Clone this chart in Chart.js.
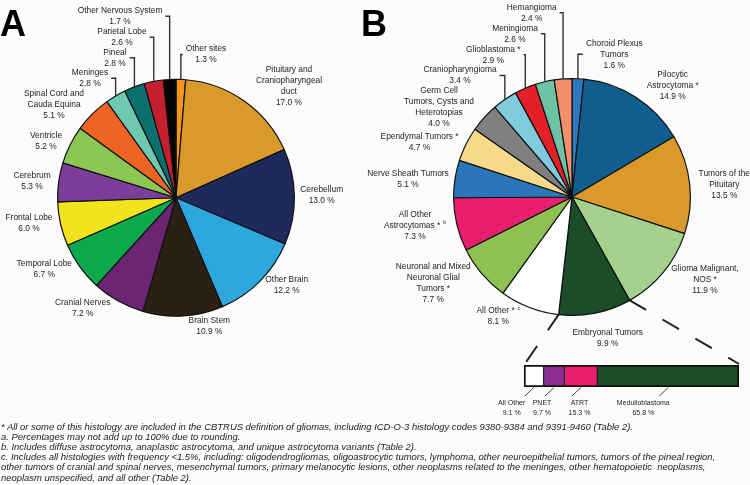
<!DOCTYPE html>
<html><head><meta charset="utf-8">
<script src="https://cdn.jsdelivr.net/npm/chart.js@4.4.1/dist/chart.umd.min.js"></script>
<style>
html,body{margin:0;padding:0;background:#fbfbfb;}
#wrap{position:relative;width:750px;height:485px;overflow:hidden;background:#fbfbfb;}
canvas{position:absolute;left:0;top:0;}
#notes{position:absolute;left:1px;top:421.5px;font:italic 9.45px/10.2px "Liberation Sans",Arial,sans-serif;color:#222;white-space:nowrap;}
</style></head><body>
<div id="wrap">
<canvas id="cA" width="750" height="485"></canvas>
<canvas id="cB" width="750" height="485"></canvas>
<canvas id="cC" width="750" height="485"></canvas>
<div id="notes"></div>
</div>
<script>
// ---------- DATA ----------
const sitesA = [["Other sites"],["Pituitary and","Craniopharyngeal","duct"],["Cerebellum"],["Other Brain"],["Brain Stem"],["Cranial Nerves"],["Temporal Lobe"],["Frontal Lobe"],["Cerebrum"],["Ventricle"],["Spinal Cord and","Cauda Equina"],["Meninges"],["Pineal"],["Parietal Lobe"],["Other Nervous System"]];
const valuesA = [1.3,17.0,13.0,12.2,10.9,7.2,6.7,6.0,5.3,5.2,5.1,2.8,2.8,2.6,1.7];

const histB = [["Choroid Plexus","Tumors"],["Pilocytic","Astrocytoma *"],["Tumors of the","Pituitary"],["Glioma Malignant,","NOS *"],["Embryonal Tumors"],["All Other * ^c"],["Neuronal and Mixed","Neuronal Glial","Tumors *"],["All Other","Astrocytomas * ^b"],["Nerve Sheath Tumors"],["Ependymal Tumors *"],["Germ Cell","Tumors, Cysts and","Heterotopias"],["Craniopharyngioma"],["Glioblastoma *"],["Meningioma"],["Hemangioma"]];
const valuesB = [1.6,14.9,13.5,11.9,9.9,8.1,7.7,7.3,5.1,4.7,4.0,3.4,2.9,2.6,2.4];

const embryonalTypes = [["All Other"],["PNET"],["ATRT"],["Medulloblastoma"]];
const embryonalValues = [9.1,9.7,15.3,65.8];

const footnotes = [
 "* All or some of this histology are included in the CBTRUS definition of gliomas, including ICD-O-3 histology codes 9380-9384 and 9391-9460 (Table 2).",
 "a. Percentages may not add up to 100% due to rounding.",
 "b. Includes diffuse astrocytoma, anaplastic astrocytoma, and unique astrocytoma variants (Table 2).",
 "c. Includes all histologies with frequency <1.5%, including: oligodendrogliomas, oligoastrocytic tumors, lymphoma, other neuroepithelial tumors, tumors of the pineal region,",
 "other tumors of cranial and spinal nerves, mesenchymal tumors, primary melanocytic lesions, other neoplasms related to the meninges, other hematopoietic&nbsp; neoplasms,",
 "neoplasm unspecified, and all other (Table 2)."
];

// ---------- STYLE / LAYOUT ----------
const colorsA = ['#F7941D','#D99A2B','#1E2A5C','#2EA7DF','#2A2114','#6B2572','#0DAA4D','#F2E41C','#7B3E9B','#8CC653','#EE6425','#6FC8B2','#0A716F','#C5202E','#050505'];
const colorsB = ['#2A7ABF','#0F5E8D','#D99A2B','#A4D18B','#1B4D28','#FFFFFF','#8DC253','#E81E6F','#2B76BA','#F6D98B','#808080','#80CBDB','#E42027','#6EC3A6','#F2906C'];
const colorsC = ['#FFFFFF','#8C2D90','#E81E6F','#1B4D28'];
const FONT = '"Liberation Sans", Arial, sans-serif';
const TXT = '#1e1e1e';
// label anchor: [centerX, firstLineY, callout]
const layoutA = [[206,49,1],[289,69.3,0],[321.7,190,0],[286.7,280,0],[209.3,320.3,0],[82.7,303,0],[44.3,264,0],[29,217.7,0],[32,175.7,0],[46,136,0],[54,94,0],[90,72.7,1],[115,52.3,1],[122,31.7,1],[120,10.7,1]];
const layoutB = [[614.3,43.3,1],[672.7,75,0],[724.3,173.3,0],[705,268.3,0],[607.7,332.3,0],[498.3,311,0],[433.3,266.7,0],[415,214.3,0],[408,173.3,0],[419.5,136.7,0],[439,90.7,0],[460,70,1],[493.3,49.3,1],[515,28.3,1],[531.7,7.3,1]];
const layoutC = [511.7,542,579.5,643.3];

function drawLabel(ctx, lines, cx, y0, lh, size){
  let maxW = 0;
  ctx.fillStyle = TXT; ctx.textAlign = 'left'; ctx.textBaseline = 'middle';
  lines.forEach((ln,i)=>{
    const parts = ln.split('^');
    const main = parts[0], sup = parts[1];
    ctx.font = size+'px '+FONT;
    const w = ctx.measureText(main).width;
    let sw = 0;
    if (sup){ ctx.font = (size*0.62)+'px '+FONT; sw = ctx.measureText(sup).width + 0.5; }
    const tw = w + sw; maxW = Math.max(maxW, tw);
    const x = cx - tw/2, y = y0 + i*lh;
    ctx.font = size+'px '+FONT;
    ctx.fillText(main, x, y);
    if (sup){ ctx.font = (size*0.62)+'px '+FONT; ctx.fillText(sup, x + w + 0.5, y - 2.5); }
  });
  return maxW;
}

function pieLabels(names, layout, letter, letterX){
  return {
    id:'pieLabels'+letter,
    afterDraw(chart){
      const ctx = chart.ctx;
      const meta = chart.getDatasetMeta(0);
      const vals = chart.data.datasets[0].data;
      ctx.save();
      ctx.fillStyle = '#000'; ctx.font = 'bold 36px '+FONT; ctx.textBaseline='alphabetic'; ctx.textAlign='left';
      ctx.fillText(letter, letterX, 36);
      meta.data.forEach((el,i)=>{
        const [lx, ly, call] = layout[i];
        const lines = names[i].concat([vals[i].toFixed(1)+' %']);
        const lh = 11;
        const w = drawLabel(ctx, lines, lx, ly, lh, 8.4);
        if (call){
          const p = el.getProps(['x','y','startAngle','endAngle','outerRadius'], true);
          const mid = (p.startAngle + p.endAngle)/2;
          const px = p.x + p.outerRadius*Math.cos(mid);
          const py = p.y + p.outerRadius*Math.sin(mid);
          const by = ly + (lines.length-1)*lh/2;
          const hx = px > lx ? lx + w/2 + 3 : lx - w/2 - 3;
          ctx.strokeStyle = '#333'; ctx.lineWidth = 1.4;
          ctx.beginPath(); ctx.moveTo(hx, by); ctx.lineTo(px, by); ctx.lineTo(px, py); ctx.stroke();
        }
      });
      ctx.restore();
    }
  };
}

function pieConfig(names, values, colors, pad, plugin){
  return {
    type:'pie',
    data:{labels:names.map(n=>n.join(' ')), datasets:[{data:values, backgroundColor:colors, borderColor:'#111', borderWidth:1.2}]},
    options:{responsive:false, animation:false, devicePixelRatio:1, events:[],
      layout:{padding:pad},
      plugins:{legend:{display:false}, tooltip:{enabled:false}}},
    plugins:[plugin]
  };
}

const chartA = new Chart(document.getElementById('cA'), pieConfig(sitesA, valuesA, colorsA, {left:57,right:455,top:78.5,bottom:168}, pieLabels(sitesA, layoutA, 'A', 0)));
const chartB = new Chart(document.getElementById('cB'), pieConfig(histB, valuesB, colorsB, {left:453,right:59,top:78,bottom:169}, pieLabels(histB, layoutB, 'B', 361)));

const totalC = embryonalValues.reduce((a,b)=>a+b,0);
const barPlugin = {
  id:'barExtras',
  afterDraw(chart){
    const ctx = chart.ctx;
    ctx.save();
    const els = embryonalValues.map((v,i)=>chart.getDatasetMeta(i).data[0].getProps(['x','y','base','height'], true));
    const top = els[0].y - els[0].height/2, bottom = els[0].y + els[0].height/2;
    // ticks + labels
    els.forEach((e,i)=>{
      const mx = (e.x + e.base)/2;
      ctx.strokeStyle = '#444'; ctx.lineWidth = 1;
      ctx.beginPath(); ctx.moveTo(mx, bottom+0.5); ctx.lineTo(mx-9, bottom+9); ctx.stroke();
      const lines = embryonalTypes[i].concat([embryonalValues[i].toFixed(1)+' %']);
      drawLabel(ctx, lines, layoutC[i], bottom+16.3, 10, 7);
    });
    // dashed connectors from the Embryonal slice
    const arc = chartB.getDatasetMeta(0).data[4].getProps(['x','y','startAngle','endAngle','outerRadius'], true);
    const sx = arc.x + arc.outerRadius*Math.cos(arc.startAngle), sy = arc.y + arc.outerRadius*Math.sin(arc.startAngle);
    const ex = arc.x + arc.outerRadius*Math.cos(arc.endAngle), ey = arc.y + arc.outerRadius*Math.sin(arc.endAngle);
    const left = els[0].base, right = els[els.length-1].x;
    ctx.strokeStyle = '#222'; ctx.lineWidth = 2; ctx.setLineDash([19,19]);
    ctx.beginPath(); ctx.moveTo(sx, sy); ctx.lineTo(right, top-1); ctx.stroke();
    ctx.beginPath(); ctx.moveTo(ex, ey); ctx.lineTo(left, top); ctx.stroke();
    ctx.restore();
  }
};

const chartC = new Chart(document.getElementById('cC'), {
  type:'bar',
  data:{labels:['Embryonal Tumors'], datasets: embryonalValues.map((v,i)=>({
    label: embryonalTypes[i].join(' '), data:[v], backgroundColor: colorsC[i], borderColor:'#111',
    borderWidth:{top:2,bottom:2,left:i===0?2:1,right:i===embryonalValues.length-1?2:1},
    borderSkipped:false, barPercentage:1, categoryPercentage:1}))},
  options:{indexAxis:'y', responsive:false, animation:false, devicePixelRatio:1, events:[],
    layout:{padding:{left:524,right:11,top:365,bottom:98}},
    scales:{x:{stacked:true, display:false, min:0, max:totalC}, y:{stacked:true, display:false}},
    plugins:{legend:{display:false}, tooltip:{enabled:false}}},
  plugins:[barPlugin]
});

document.getElementById('notes').innerHTML = footnotes.join('<br>');
</script>
</body></html>
